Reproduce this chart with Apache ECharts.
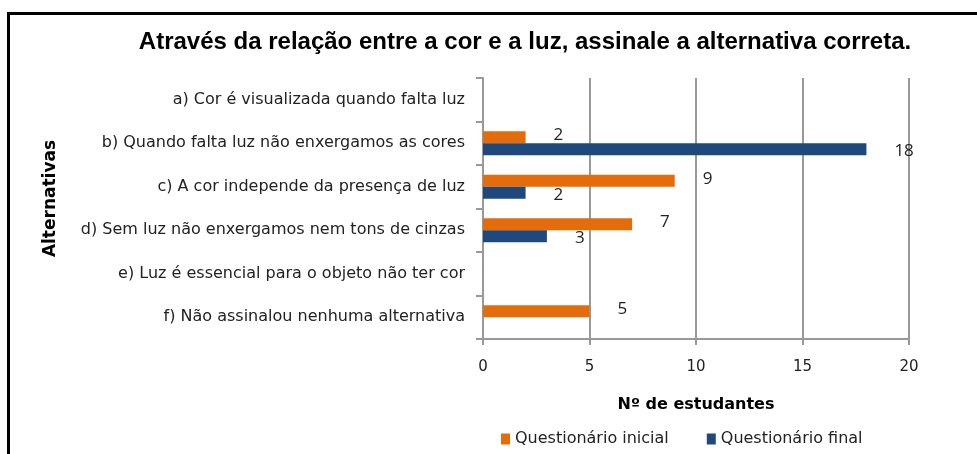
<!DOCTYPE html>
<html>
<head>
<meta charset="utf-8">
<script src="https://cdn.jsdelivr.net/npm/echarts@6/dist/echarts.min.js"></script>
<style>
  html, body { margin: 0; padding: 0; background: #fff; overflow: hidden; }
  #frame { position: absolute; left: 7px; top: 12px; width: 1000px; height: 500px; border: 3px solid #000; box-sizing: border-box; }
  #chart { position: absolute; left: 0; top: 0; width: 977px; height: 454px; }
</style>
</head>
<body>
<div id="frame"></div>
<div id="chart"></div>
<script>
  // alternativas, de cima para baixo
  var categorias = [
    'a) Cor é visualizada quando falta luz',
    'b) Quando falta luz não enxergamos as cores',
    'c) A cor independe da presença de luz',
    'd) Sem luz não enxergamos nem tons de cinzas',
    'e) Luz é essencial para o objeto não ter cor',
    'f) Não assinalou nenhuma alternativa'
  ];
  var inicial = [0, 2, 9, 7, 0, 5];
  var final = [0, 18, 2, 3, 0, 0];

  var chart = echarts.init(document.getElementById('chart'));
  var fonte = '"DejaVu Sans", "Open Sans", sans-serif';

  function rotulo(dy) {
    return {
      show: true,
      position: 'right',
      distance: 28,
      offset: [0, dy],
      color: '#222',
      fontSize: 17,
      fontFamily: '"Open Sans", sans-serif',
      formatter: function (p) { return p.value ? p.value : ''; }
    };
  }

  var option = {
    backgroundColor: 'transparent',
    animation: false,
    title: {
      text: 'Através da relação entre a cor e a luz, assinale a alternativa correta.',
      left: 520,
      textAlign: 'center',
      top: 25,
      textStyle: { fontFamily: '"Liberation Sans", Arial, sans-serif', fontWeight: 'bold', fontSize: 24, color: '#000' }
    },
    legend: {
      bottom: 2,
      left: 496,
      itemWidth: 9,
      itemHeight: 11,
      itemGap: 38,
      icon: 'rect',
      textStyle: { fontFamily: fonte, fontSize: 16, color: '#222' },
      data: ['Questionário inicial', 'Questionário final']
    },
    grid: { left: 483, right: 68, top: 78, bottom: 115, containLabel: false },
    xAxis: {
      type: 'value',
      min: 0,
      max: 20,
      interval: 5,
      name: 'Nº de estudantes',
      nameLocation: 'middle',
      nameGap: 58,
      nameTextStyle: { fontFamily: fonte, fontWeight: 'bold', fontSize: 16, color: '#000' },
      axisLine: { show: true, lineStyle: { color: '#999', width: 2 } },
      axisTick: { show: true, length: 6, lineStyle: { color: '#999', width: 2 } },
      axisLabel: { margin: 21, fontFamily: fonte, fontSize: 15, color: '#222' },
      splitLine: { show: true, lineStyle: { color: '#999', width: 2 } }
    },
    yAxis: {
      type: 'category',
      inverse: true,
      data: categorias,
      name: 'Alternativas',
      nameLocation: 'middle',
      nameGap: 424,
      nameRotate: 90,
      nameTextStyle: { fontFamily: fonte, fontWeight: 'bold', fontSize: 17, color: '#000', padding: [0, 0, 0, 20] },
      axisLine: { show: true, lineStyle: { color: '#999', width: 2 } },
      axisTick: { show: true, length: 7, lineStyle: { color: '#999', width: 2 } },
      axisLabel: { margin: 18, fontFamily: fonte, fontSize: 16, color: '#222' },
      splitLine: { show: false }
    },
    series: [
      {
        name: 'Questionário inicial',
        type: 'bar',
        data: inicial,
        barWidth: 12,
        barGap: '0%',
        itemStyle: { color: '#E46C0A' },
        label: rotulo(-2)
      },
      {
        name: 'Questionário final',
        type: 'bar',
        data: final,
        barWidth: 12,
        barGap: '0%',
        itemStyle: { color: '#1F497D' },
        label: rotulo(2)
      }
    ]
  };
  chart.setOption(option);
</script>
</body>
</html>
